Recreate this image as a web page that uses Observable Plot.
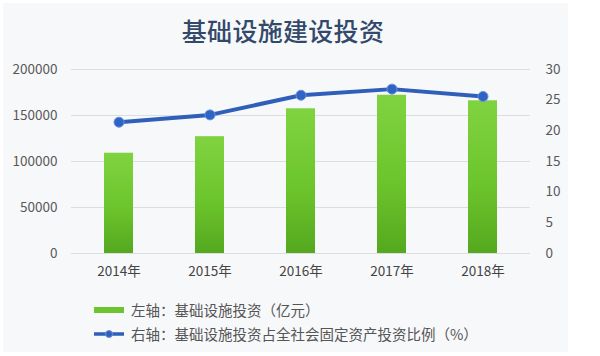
<!DOCTYPE html>
<html>
<head>
<meta charset="utf-8">
<script src="https://cdn.jsdelivr.net/npm/d3@7"></script>
<script src="https://cdn.jsdelivr.net/npm/@observablehq/plot@0.6"></script>
<style>
  html, body { margin: 0; padding: 0; background: #ffffff; }
  body { width: 600px; height: 356px; position: relative; overflow: hidden;
         font-family: "Noto Sans CJK SC", "Open Sans", sans-serif; }
  #panel { position: absolute; left: 3px; top: 3px; width: 565px; height: 349px; background: #f7f8fa; }
  #title { position: absolute; left: 0; top: 14px; width: 566px; text-align: center;
           font-size: 25px; font-weight: 500; color: #33496b; letter-spacing: 0.3px; line-height: 32px; }
  #chart { position: absolute; left: 0; top: 50px; }
  .leg { position: absolute; left: 94px; font-size: 14.5px; color: #555; display: flex; align-items: center; line-height: 18px; }
  .leg svg { margin-right: 7px; }
</style>
</head>
<body>
<div id="panel"></div>
<div id="title">基础设施建设投资</div>
<div id="chart"></div>
<div class="leg" style="top:301px"><svg width="30" height="10"><rect x="0" y="2" width="30" height="6" fill="#6cc52e"/></svg>左轴：基础设施投资（亿元）</div>
<div class="leg" style="top:325px"><svg width="30" height="10"><line x1="0" y1="5" x2="30" y2="5" stroke="#2f5fb8" stroke-width="3.5"/><circle cx="15" cy="5" r="3.5" fill="#2f5fb8" stroke="#6a92dc" stroke-width="1"/></svg>右轴：基础设施投资占全社会固定资产投资比例（%）</div>
<script>
const years = ["2014年", "2015年", "2016年", "2017年", "2018年"];
const investment = [109000, 127000, 157300, 172000, 166000];
const sharePct = [21.4, 22.6, 25.8, 26.8, 25.6];
const leftTicks = [0, 50000, 100000, 150000, 200000];
const rightTicks = [0, 5, 10, 15, 20, 25, 30];

const k = 200000 / 30;
const data = years.map((y, i) => ({year: y, inv: investment[i], pct: sharePct[i], pctScaled: sharePct[i] * k}));

const chart = Plot.plot({
  width: 600,
  height: 240,
  marginTop: 19,
  marginBottom: 37,
  marginLeft: 71,
  marginRight: 70,
  style: {background: "transparent", fontFamily: "'Noto Sans CJK SC', 'Open Sans', sans-serif", fontSize: "13.5px", color: "#555"},
  x: {domain: years, paddingInner: 0.68, paddingOuter: 0.34, label: null},
  y: {domain: [0, 200000], label: null},
  marks: [
    Plot.gridY(leftTicks, {stroke: "#dcdde0", strokeOpacity: 1, strokeWidth: 1.2}),
    Plot.barY(data, {x: "year", y: "inv", fill: "#6cc52e", className: "bars"}),
    Plot.line(data, {x: "year", y: "pctScaled", stroke: "#2f5fb8", strokeWidth: 4}),
    Plot.dot(data, {x: "year", y: "pctScaled", r: 5, fill: "#2f63c6", stroke: "#6a92dc", strokeWidth: 1}),
    Plot.axisY(leftTicks, {anchor: "left", tickSize: 0, tickPadding: 14, label: null, tickFormat: d => String(d), fill: "#595959"}),
    Plot.axisY(rightTicks.map(v => v * k), {anchor: "right", tickSize: 0, tickPadding: 15, label: null, tickFormat: d => String(Math.round(d / k)), fill: "#595959"}),
    Plot.axisX({tickSize: 0, tickPadding: 13, label: null, fill: "#444"})
  ]
});

// vertical gradient for the bars
const svgNS = "http://www.w3.org/2000/svg";
const defs = document.createElementNS(svgNS, "defs");
defs.innerHTML = '<linearGradient id="barGrad" x1="0" y1="0" x2="0" y2="1">' +
  '<stop offset="0" stop-color="#80d340"/><stop offset="0.55" stop-color="#6cc52c"/><stop offset="1" stop-color="#55a81f"/></linearGradient>';
chart.insertBefore(defs, chart.firstChild);
d3.select(chart).selectAll("g.bars rect, .bars rect").attr("fill", "url(#barGrad)");

document.getElementById("chart").appendChild(chart);
</script>
</body>
</html>
